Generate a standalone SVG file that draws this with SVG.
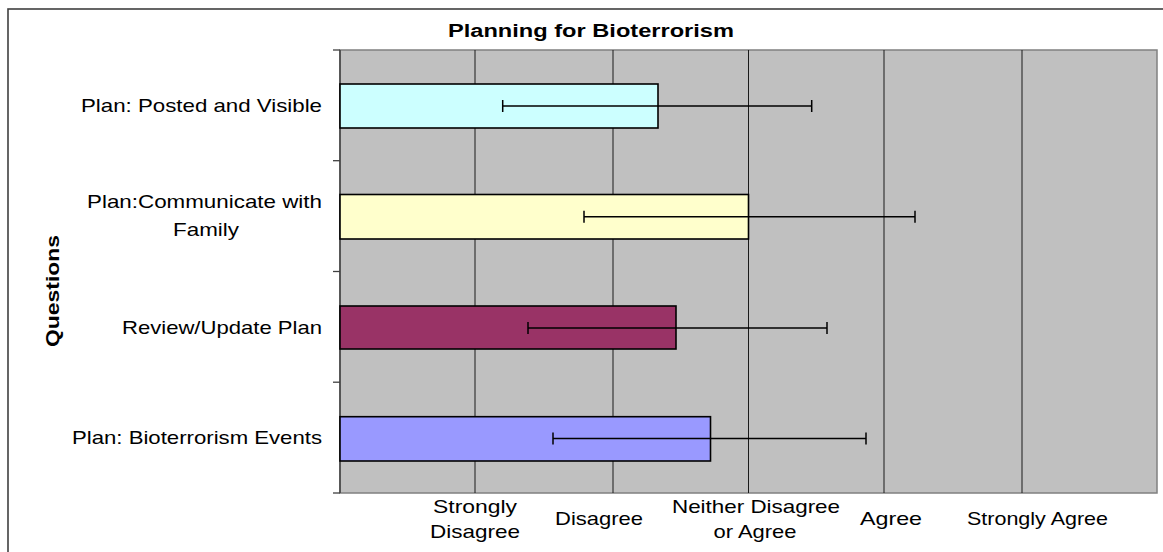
<svg xmlns="http://www.w3.org/2000/svg" width="1163" height="552" viewBox="0 0 1163 552">
<style>
.lbl{font-family:"Liberation Sans",Arial,sans-serif;font-size:18.5px;fill:#000}
.ttl{font-family:"Liberation Sans",Arial,sans-serif;font-size:17.5px;font-weight:bold;fill:#000}
.grid{stroke:#1a1a1a;stroke-width:1}
.bar{stroke:#000;stroke-width:1.6}
.err{stroke:#000;stroke-width:1.5;fill:none}
.tick{stroke:#404040;stroke-width:1.3}
</style>
<rect x="0" y="0" width="1163" height="552" fill="#fff"/>
<rect x="8" y="9" width="1170" height="560" fill="#fff" stroke="#404040" stroke-width="1.6"/>
<text class="ttl" x="591" y="37" text-anchor="middle" textLength="286" lengthAdjust="spacingAndGlyphs">Planning for Bioterrorism</text>
<g id="plot">
<rect x="340" y="50" width="817" height="443" fill="#c0c0c0" stroke="#808080" stroke-width="1.5"/>
<line class="grid" x1="475" y1="50" x2="475" y2="493"/>
<line class="grid" x1="613" y1="50" x2="613" y2="493"/>
<line class="grid" x1="748.5" y1="50" x2="748.5" y2="493"/>
<line class="grid" x1="884" y1="50" x2="884" y2="493"/>
<line class="grid" x1="1022" y1="50" x2="1022" y2="493"/>
<line x1="340" y1="50" x2="340" y2="493" stroke="#404040" stroke-width="1.5"/>
<line class="tick" x1="333" y1="50" x2="340" y2="50"/>
<line class="tick" x1="333" y1="160.7" x2="340" y2="160.7"/>
<line class="tick" x1="333" y1="271.5" x2="340" y2="271.5"/>
<line class="tick" x1="333" y1="382.2" x2="340" y2="382.2"/>
<line class="tick" x1="333" y1="493" x2="340" y2="493"/>
</g>
<g id="bar-posted">
<rect class="bar" x="340" y="84" width="318" height="44" fill="#ccffff"/>
<text class="lbl" x="322" y="112" text-anchor="end" textLength="241" lengthAdjust="spacingAndGlyphs">Plan: Posted and Visible</text>
</g>
<g id="bar-communicate">
<rect class="bar" x="340" y="194.5" width="408.5" height="44.5" fill="#ffffcc"/>
<text class="lbl" x="322" y="208" text-anchor="end" textLength="235" lengthAdjust="spacingAndGlyphs">Plan:Communicate with</text>
<text class="lbl" x="206" y="236" text-anchor="middle" textLength="66" lengthAdjust="spacingAndGlyphs">Family</text>
</g>
<g id="bar-review">
<rect class="bar" x="340" y="306" width="336" height="43" fill="#993366"/>
<text class="lbl" x="322" y="334" text-anchor="end" textLength="200" lengthAdjust="spacingAndGlyphs">Review/Update Plan</text>
</g>
<g id="bar-events">
<rect class="bar" x="340" y="416.7" width="370.5" height="44.3" fill="#9999ff"/>
<text class="lbl" x="322" y="444" text-anchor="end" textLength="250" lengthAdjust="spacingAndGlyphs">Plan: Bioterrorism Events</text>
</g>
<g id="connectors">
<path class="err" d="M502.7 106H811.7M502.7 100V112M811.7 100V112"/>
<path class="err" d="M584 216.7H915M584 210.7V222.7M915 210.7V222.7"/>
<path class="err" d="M528 328H827M528 322V334M827 322V334"/>
<path class="err" d="M553 438.5H866M553 432.5V444.5M866 432.5V444.5"/>
</g>
<g id="x-labels">
<text class="lbl" x="475" y="513" text-anchor="middle" textLength="84" lengthAdjust="spacingAndGlyphs">Strongly</text>
<text class="lbl" x="475" y="538" text-anchor="middle" textLength="90" lengthAdjust="spacingAndGlyphs">Disagree</text>
<text class="lbl" x="599" y="525" text-anchor="middle" textLength="88" lengthAdjust="spacingAndGlyphs">Disagree</text>
<text class="lbl" x="756" y="513" text-anchor="middle" textLength="168" lengthAdjust="spacingAndGlyphs">Neither Disagree</text>
<text class="lbl" x="755" y="538" text-anchor="middle" textLength="83" lengthAdjust="spacingAndGlyphs">or Agree</text>
<text class="lbl" x="891" y="525" text-anchor="middle" textLength="62" lengthAdjust="spacingAndGlyphs">Agree</text>
<text class="lbl" x="1037.5" y="525" text-anchor="middle" textLength="141" lengthAdjust="spacingAndGlyphs">Strongly Agree</text>
</g>
<g id="y-title">
<text class="ttl" transform="translate(59 291) rotate(-90)" text-anchor="middle" textLength="112" lengthAdjust="spacingAndGlyphs">Questions</text>
</g>
</svg>
